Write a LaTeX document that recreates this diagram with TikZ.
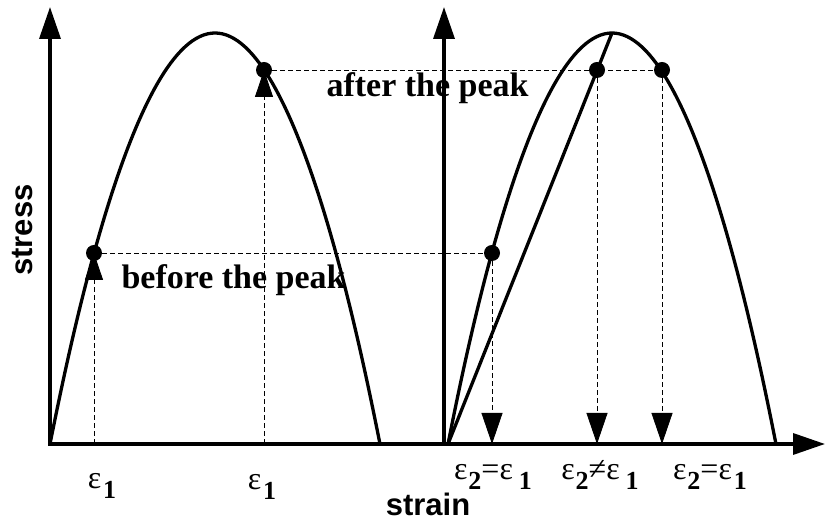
\documentclass[tikz,border=0pt]{standalone}
\usepackage{fontspec}
\setmainfont{Liberation Serif}
\setsansfont{Liberation Sans}
\usetikzlibrary{arrows.meta, positioning}
\newcommand{\strn}[2][1pt]{ε\kern#1\raisebox{-10pt}{\fontsize{26}{26}\selectfont\bfseries #2}}

\begin{document}
\begin{tikzpicture}[
    x=1pt, y=1pt,
    axis/.style={line width=3.5pt, {Triangle[length=32pt, width=21pt]}-{Triangle[length=32pt, width=21pt]}},
    yaxis/.style={line width=3.5pt, -{Triangle[length=32pt, width=21pt]}},
    curve/.style={line width=3.3pt, line join=round},
    guide/.style={line width=0.8pt, dash pattern=on 5pt off 3pt},
    uptip/.style={guide, -{Triangle[length=27pt, width=18pt]}},
    downtip/.style={guide, -{Triangle[length=31pt, width=21pt]}},
    dot/.style={circle, fill=black, inner sep=0pt, minimum size=16pt},
    strainlbl/.style={font=\fontsize{32}{32}\selectfont, anchor=base},
    caption/.style={font=\fontsize{34}{34}\selectfont\bfseries, anchor=base west},
    axislbl/.style={font=\fontsize{31}{31}\selectfont\sffamily\bfseries, anchor=base}
]
\useasboundingbox (-50,-77) rectangle (777,444);

% axes
\coordinate (o1) at (0,0);
\coordinate (o2) at (394,0);
\coordinate (xend) at (775,0);
\coordinate (ytop1) at (0,437);
\coordinate (ytop2) at (394,437);
\draw[axis] (ytop1) -- (o1) -- (xend);
\draw[yaxis] (o2) -- (ytop2);

% stress-strain curves
\draw[curve] (0,0) parabola bend (165,411) (330,0);
\draw[curve] (398,0) parabola bend (562,411) (726,0);
\draw[curve] (398,0) -- (562,411);

% points on the curves
\node[dot] (a1) at (44,191) {};
\node[dot] (a2) at (214,374) {};
\node[dot] (b1) at (442,191) {};
\node[dot] (b2) at (547,374) {};
\node[dot] (b3) at (612,374) {};

\draw[guide] (a1) -- (b1);
\draw[guide] (a2) -- (b3);

\draw[uptip] (a1 |- o1) -- (a1.center);
\draw[uptip] (a2 |- o1) -- (a2.center);
\draw[downtip] (b1) -- (b1 |- o1);
\draw[downtip] (b2) -- (b2 |- o1);
\draw[downtip] (b3) -- (b3 |- o1);

% labels
\node[strainlbl] (ea1) at (52,-45) {\strn[2pt]{1}};
\node[strainlbl] (ea2) at (212,-46) {\strn[2pt]{1}};
\node[strainlbl] (eb1) at (443,-36) {\strn{2}=\strn[6pt]{1}};
\node[strainlbl] (eb2) at (550,-36) {\strn{2}≠\strn[6pt]{1}};
\node[strainlbl] (eb3) at (660,-36) {\strn{2}=\strn[2pt]{1}};

\node[caption] (before) at (68,155) {before the peak};
\node[caption] (after) at (273,347) {after the peak};

\node[axislbl, rotate=90] (stress) at (-17,214) {stress};
\node[axislbl] (strain) at (378,-72) {strain};
\end{tikzpicture}
\end{document}
